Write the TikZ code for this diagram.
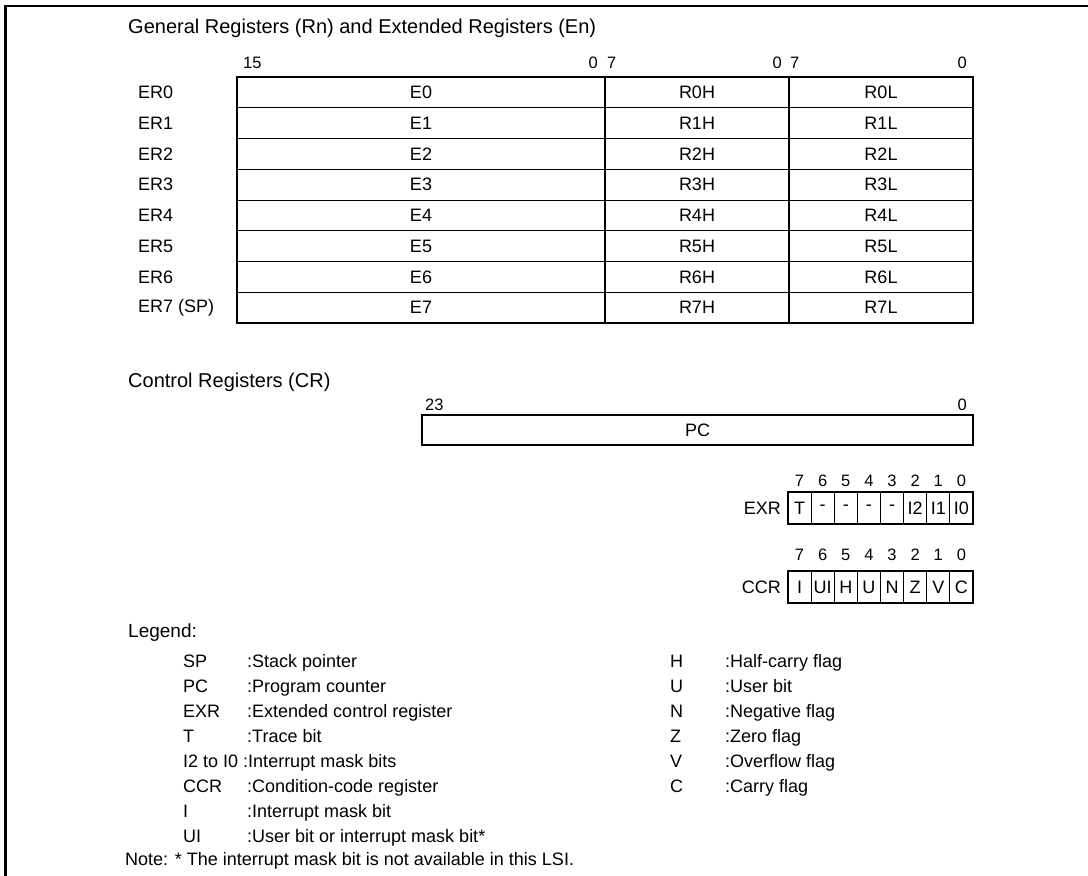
\documentclass[tikz,border=0pt]{standalone}
\usepackage{fontspec}
\setmainfont{Liberation Sans}
\tikzset{
  txt/.style={inner sep=0pt, font=\fontsize{18}{20}\selectfont},
  ttl/.style={inner sep=0pt, font=\fontsize{20}{24}\selectfont, anchor=base west},
  bitnum/.style={inner sep=0pt, font=\fontsize{16.5}{18}\selectfont, anchor=base},
  outer/.style={line width=2.4pt},
  inner/.style={line width=1pt},
  frameline/.style={line width=2.6pt},
}
\begin{document}
\begin{tikzpicture}[x=1pt,y=-1pt]
\useasboundingbox (0,0) rectangle (1088,876);
\fill[white] (0,0) rectangle (1088,876);
\draw[frameline] (5.5,876) -- (5.5,6) -- (1088,6);

% ---------- General registers ----------
\node[ttl] (gtitle) at (128,33) {General Registers (Rn) and Extended Registers (En)};
\node[bitnum, anchor=base west] (b15) at (243,68) {15};
\node[bitnum, anchor=base east] (b0a) at (598,68) {0};
\node[bitnum, anchor=base west] (b7a) at (607,68) {7};
\node[bitnum, anchor=base east] (b0b) at (782,68) {0};
\node[bitnum, anchor=base west] (b7b) at (790,68) {7};
\node[bitnum, anchor=base east] (b0c) at (967,68) {0};

\foreach \i in {1,...,7} {
  \draw[inner] (237,{77+30.75*\i}) -- (973,{77+30.75*\i});
}
\draw[inner, line width=1.3pt] (605,77) -- (605,323);
\draw[inner, line width=1.3pt] (789,77) -- (789,323);
\draw[outer] (237,77) rectangle (973,323);

\foreach \i in {0,...,7} {
  \pgfmathsetmacro{\yc}{77+30.75*(\i+0.5)}
  \ifnum\i=7
    \node[txt, anchor=west] (er\i) at (138,\yc) {ER7 (SP)};
  \else
    \node[txt, anchor=west] (er\i) at (138,\yc) {ER\i};
  \fi
  \node[txt] (e\i) at (421,\yc) {E\i};
  \node[txt] (rh\i) at (697,\yc) {R\i H};
  \node[txt] (rl\i) at (881,\yc) {R\i L};
}

% ---------- Control registers ----------
\node[ttl] (ctitle) at (128,387) {Control Registers (CR)};
\node[bitnum, anchor=base west] (b23) at (425,410) {23};
\node[bitnum, anchor=base east] (bpc0) at (967,410) {0};
\draw[outer] (422,415) rectangle (973,445);
\node[txt] (pc) at (697.5,430) {PC};

% EXR
\node[txt, anchor=east] (exr) at (781,508) {EXR};
\foreach \t [count=\k from 0] in {T,-,-,-,-,I2,I1,I0} {
  \pgfmathsetmacro{\xl}{788+23.125*\k}
  \pgfmathsetmacro{\xc}{\xl+11.56}
  \pgfmathtruncatemacro{\bit}{7-\k}
  \node[bitnum] (eb\k) at (\xc,486) {\bit};
  \node[txt] (ec\k) at (\xc,508) {\t};
  \ifnum\k>0 \draw[inner] (\xl,492) -- (\xl,524); \fi
}
\draw[outer] (788,492) rectangle (973,524);

% CCR
\node[txt, anchor=east] (ccr) at (781,587) {CCR};
\foreach \t [count=\k from 0] in {I,UI,H,U,N,Z,V,C} {
  \pgfmathsetmacro{\xl}{788+23.125*\k}
  \pgfmathsetmacro{\xc}{\xl+11.56}
  \pgfmathtruncatemacro{\bit}{7-\k}
  \node[bitnum] (cb\k) at (\xc,560) {\bit};
  \node[txt] (cc\k) at (\xc,587) {\t};
  \ifnum\k>0 \draw[inner] (\xl,571) -- (\xl,603); \fi
}
\draw[outer] (788,571) rectangle (973,603);

% ---------- Legend ----------
\node[txt, anchor=base west, font=\fontsize{19}{21}\selectfont] (legend) at (128,637) {Legend:};
\foreach \a/\d [count=\k from 0] in {SP/:Stack pointer,PC/:Program counter,EXR/:Extended control register,T/:Trace bit,CCR/:Condition-code register,I/:Interrupt mask bit,UI/:User bit or interrupt mask bit*} {
  \pgfmathsetmacro{\yb}{\k<4 ? 667+25*\k : 667+25*(\k+1)}
  \node[txt, anchor=base west] (la\k) at (183,\yb) {\a};
  \node[txt, anchor=base west] (ld\k) at (247,\yb) {\d};
}
\node[txt, anchor=base west] (laI) at (183,767) {I2 to I0 :Interrupt mask bits};

\foreach \a/\d [count=\k from 0] in {H/:Half-carry flag,U/:User bit,N/:Negative flag,Z/:Zero flag,V/:Overflow flag,C/:Carry flag} {
  \pgfmathsetmacro{\yb}{667+25*\k}
  \node[txt, anchor=base west] (ra\k) at (670,\yb) {\a};
  \node[txt, anchor=base west] (rd\k) at (725,\yb) {\d};
}

\node[txt, anchor=base west] (note) at (125,865) {Note: * The interrupt mask bit is not available in this LSI.};
\end{tikzpicture}
\end{document}
